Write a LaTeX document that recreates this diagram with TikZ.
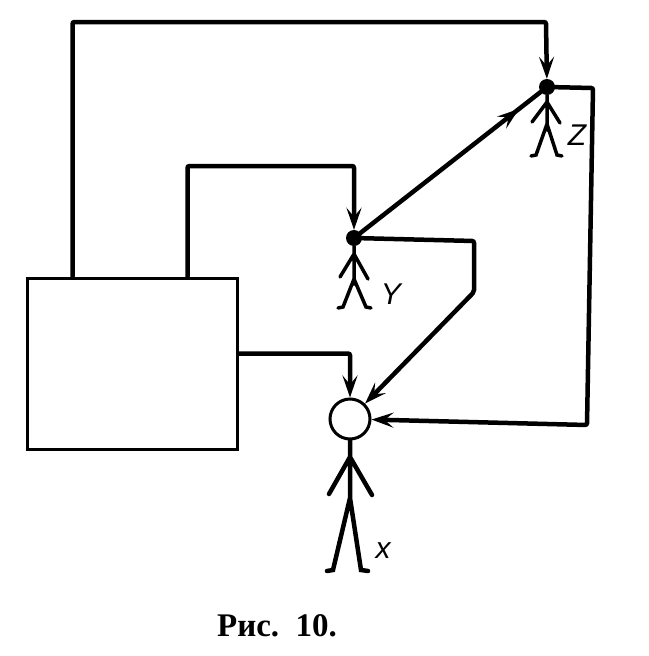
\documentclass[tikz,border=0pt]{standalone}
\usepackage{fontspec}
\setmainfont{Liberation Serif}
\newfontfamily\labelfont{Liberation Sans}
\usetikzlibrary{arrows.meta,decorations.markings}

\begin{document}
\begin{tikzpicture}[x=1pt,y=-1pt,line cap=round,
    link/.style={line width=4.5pt,rounded corners=2pt,
      -{Stealth[length=22pt,width=15pt,inset=9pt]}},
    body/.style={line width=3.5pt},
    dot/.style={circle,fill,minimum size=16pt,inner sep=0pt},
    who/.style={font=\labelfont\itshape\fontsize{30}{30}\selectfont}]
    \useasboundingbox (0,0) rectangle (648,656);
    % the box
    \node[draw,line width=3pt,inner sep=0pt,minimum width=210pt,
      minimum height=171pt] (box) at (132,363.5) {};
    % heads
    \node[circle,draw,line width=3pt,minimum size=40pt,inner sep=0pt] (hx) at (350,419) {};
    \node[dot] (hy) at (354,238) {};
    \node[dot] (hz) at (547,87) {};
    % bodies
    \draw[line width=4.5pt] (hx.south) -- (350,503)
    (350,457) -- (329,494) (350,457) -- (372,495)
    (350,498) -- (333,570) -- (327,571) (350,498) -- (361,570) -- (368,571);
    \draw[body] (hy) -- (354,284)
    (354,254) -- (340,277) (354,254) -- (368,279)
    (354,279) -- (343,307) -- (338,308) (354,279) -- (366,307) -- (371,308);
    \draw[body] (hz) -- (547,130)
    (547,102) -- (532,122) (547,102) -- (560,123)
    (547,124) -- (536,155) -- (531,156) (547,124) -- (557,155) -- (562,156);
    \node[who] (lx) at (383,551) {x};
    \node[who] (ly) at (391,294) {Y};
    \node[who] (lz) at (577,135) {Z};
    % connectors
    \coordinate (c1) at (546,22);
    \coordinate (c2) at (354,166);
    \coordinate (c3) at (474,241);
    \coordinate (c4) at (474,292);
    \coordinate (c5) at (593,88);
    \coordinate (c6) at (587,425);
    \draw[link] ([xshift=47pt]box.north west) |- (c1) -- (hz);
    \draw[link] ([xshift=162pt]box.north west) |- (c2) -- (hy);
    \draw[link] ([yshift=10pt]box.east) -| (hx);
    \draw[link] (hy) -- (c3) -- (c4) -- (hx);
    \draw[link] (hz) -- (c5) -- (c6) -- (hx);
    \draw[line width=4.5pt,decoration={markings,
      mark=at position 0.88 with {\arrow{Stealth[length=22pt,width=15pt,inset=9pt]}}},
      postaction=decorate] (hy) -- (hz);
    \node[font=\bfseries\fontsize{33}{33}\selectfont,anchor=base] (cap) at (277,636)
      {Рис.\ \ 10.};
\end{tikzpicture}
\end{document}
